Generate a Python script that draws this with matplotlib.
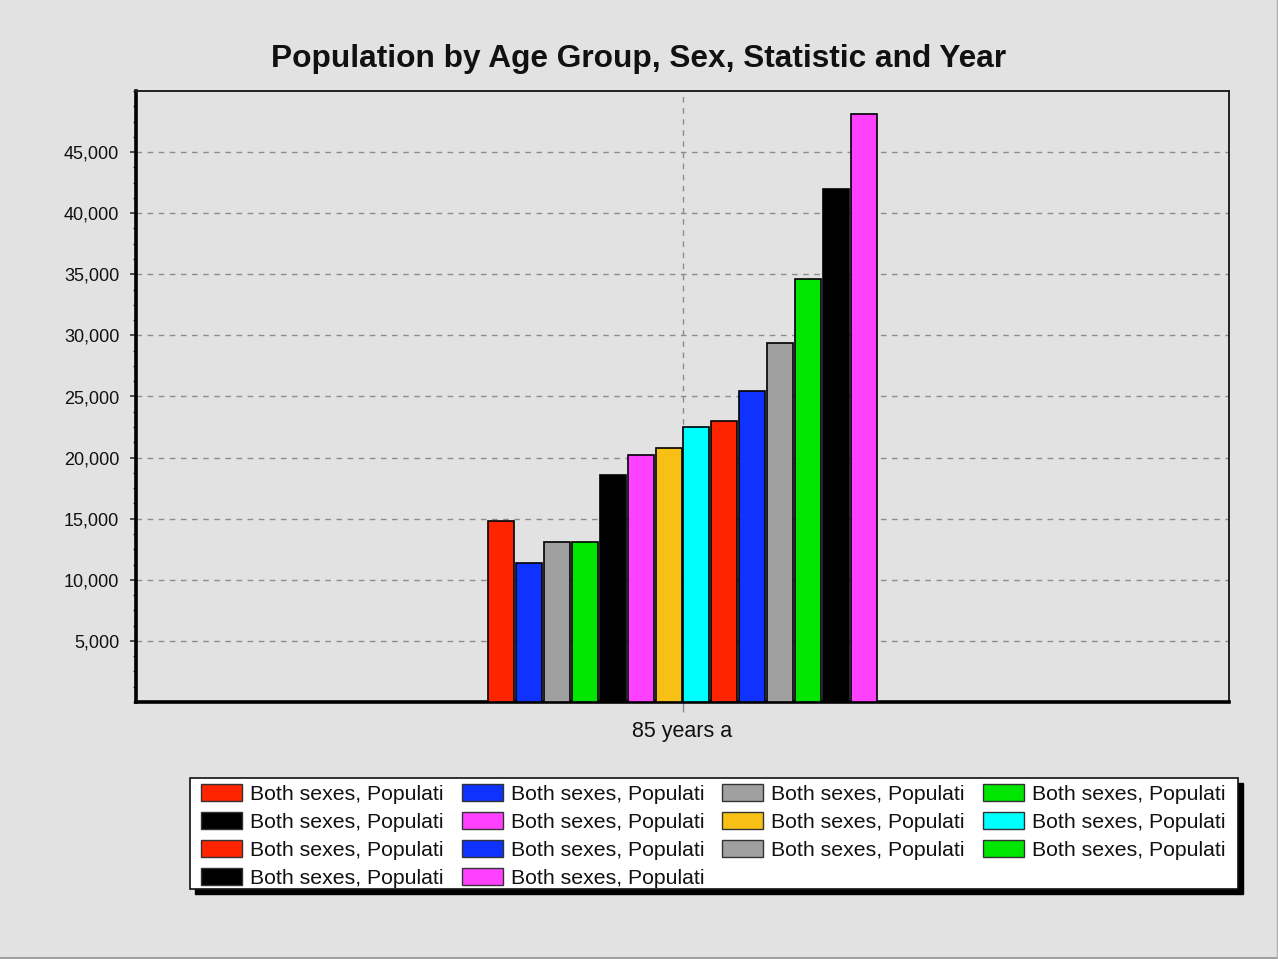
import matplotlib
matplotlib.use("Agg")
import matplotlib.pyplot as plt
from matplotlib.ticker import MultipleLocator, FuncFormatter
from matplotlib.patches import Patch, Rectangle
from matplotlib.lines import Line2D

plt.rcParams['font.family'] = ['Liberation Sans', 'DejaVu Sans']

title = "Population by Age Group, Sex, Statistic and Year"
category = "85 years a"
series_labels = ["Both sexes, Populati"] * 14
values = [14800, 11400, 13100, 13100, 18600, 20200, 20800,
          22500, 23000, 25450, 29400, 34600, 41950, 48100]
colors = ["#ff2400", "#0f32ff", "#a0a0a0", "#00e600", "#000000", "#ff40ff",
          "#f8c014", "#00ffff", "#ff2400", "#0f32ff", "#a0a0a0", "#00e600",
          "#000000", "#ff40ff"]
yticks = [5000, 10000, 15000, 20000, 25000, 30000, 35000, 40000, 45000]

W, H = 1278, 959
bg = "#e2e2e2"
fig = plt.figure(figsize=(W / 100, H / 100), dpi=100, facecolor=bg)
ax = fig.add_axes([136/W, 1-702/H, (1229-136)/W, (702-91)/H])
ax.set_facecolor(bg)

n = len(values)
group = 0.358
w = group / n
xs = [(i - (n - 1) / 2) * w for i in range(n)]
bars = ax.bar(xs, values, width=w * 0.93, color=colors, edgecolor="black",
              linewidth=1.2, zorder=3)

ax.set_xlim(-0.5, 0.5)
ax.set_ylim(0, 50000)
ax.set_xticks([0])
ax.set_xticklabels([category])
ax.set_yticks(yticks)
ax.yaxis.set_major_formatter(FuncFormatter(lambda v, p: f"{int(v):,}"))
ax.yaxis.set_minor_locator(MultipleLocator(1250))

ax.grid(True, axis="both", which="major", linestyle=(0, (4, 4)),
        color="#8c8c8c", linewidth=1.0, zorder=0)

ax.tick_params(axis="y", which="major", length=4, width=1.2, color="#333333",
               labelsize=13, pad=8, labelcolor="#111111")
ax.tick_params(axis="y", which="minor", length=2.5, width=1, color="#333333")
ax.tick_params(axis="x", length=7, width=1, color="#8c8c8c",
               labelsize=15.5, pad=7, labelcolor="#111111")

for side in ["left", "bottom"]:
    ax.spines[side].set_linewidth(2.6)
    ax.spines[side].set_color("black")
for side in ["top", "right"]:
    ax.spines[side].set_linewidth(1.4)
    ax.spines[side].set_color("#222222")

fig.text(0.5, 1 - 59/H, title, ha="center", va="center",
         fontsize=22.8, fontweight="bold", color="#111111")

# legend box with hard shadow
bx0, bx1, by0, by1 = 190, 1238, 778, 889
sh = 5
fig.add_artist(Rectangle(((bx0 + sh) / W, 1 - (by1 + sh) / H), (bx1 - bx0) / W,
                         (by1 - by0) / H, transform=fig.transFigure,
                         facecolor="black", edgecolor="black", zorder=1))
fig.add_artist(Rectangle((bx0 / W, 1 - by1 / H), (bx1 - bx0) / W,
                         (by1 - by0) / H, transform=fig.transFigure,
                         facecolor="white", edgecolor="#111111", linewidth=1.2,
                         zorder=2))

handles = [Patch(facecolor=c, edgecolor="#333333", linewidth=1) for c in colors]
order = [0, 4, 8, 12, 1, 5, 9, 13, 2, 6, 10, 3, 7, 11]
leg = fig.legend([handles[i] for i in order], [series_labels[i] for i in order],
                 ncol=4, loc="upper left",
                 bbox_to_anchor=(201/W, 1 - 784/H),
                 fontsize=15.3, frameon=False,
                 handlelength=1.93, handleheight=0.85, handletextpad=0.38,
                 columnspacing=0.85, labelspacing=0.39, borderpad=0,
                 borderaxespad=0)
leg.set_zorder(3)
for t in leg.get_texts():
    t.set_color("#111111")

fig.add_artist(Line2D([0, 1], [0.001, 0.001], transform=fig.transFigure,
                      color="#a0a0a0", linewidth=1.5))
fig.add_artist(Line2D([0.999, 0.999], [0, 1], transform=fig.transFigure,
                      color="#b0b0b0", linewidth=1.0))

fig.savefig("out.png", dpi=100, facecolor=bg)
